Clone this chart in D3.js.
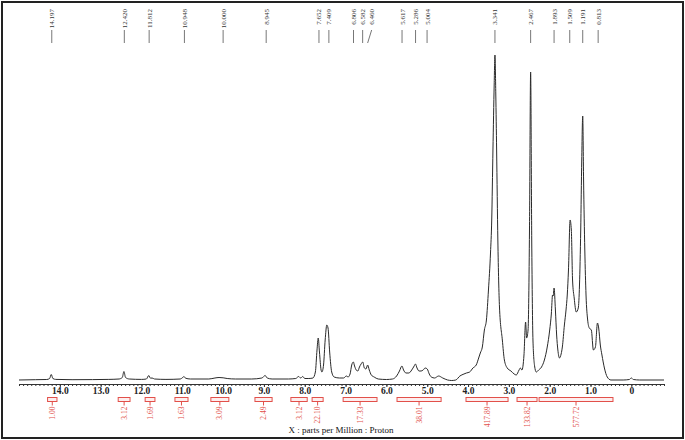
<!DOCTYPE html>
<html lang="en">
<head>
    <meta charset="UTF-8">
    <title>1H NMR spectrum</title>
    <script src="https://d3js.org/d3.v7.min.js"></script>
    <style>
        body { margin: 0; background: #fff; }
        text { font-family: "Liberation Serif", "DejaVu Serif", serif; }
    </style>
</head>
<body>
<svg width="685" height="440"></svg>
<script>
    // peak picks shown along the top (ppm)
    const peakPicks = [14.197, 12.420, 11.812, 10.948, 10.000, 8.945, 7.652, 7.409,
        6.806, 6.582, 6.460, 5.617, 5.286, 5.004, 3.341, 2.467, 1.893, 1.509, 1.191, 0.813]

    // integration regions (ppm from / to) and their values
    const integralFrom = [14.30, 12.57, 11.91, 11.18, 10.30, 9.22, 8.34, 7.82, 7.06, 5.74, 4.05, 2.80, 2.26]
    const integralTo = [14.07, 12.28, 11.67, 10.86, 9.86, 8.80, 7.94, 7.55, 6.23, 4.66, 3.02, 2.31, 0.45]
    const integralValues = ["1.00", "3.12", "1.69", "1.63", "3.09", "2.49", "3.12", "22.10",
        "17.33", "38.01", "417.89", "133.82", "577.72"]

    // axis tick labels (ppm)
    const majorTicks = [14, 13, 12, 11, 10, 9, 8, 7, 6, 5, 4, 3, 2, 1, 0]

    // spectrum: [ppm, intensity]
    const spectrum = [
        [15.0, 0], [14.6, 0.3], [14.32, 0.5], [14.25, 1.5], [14.21, 5.5], [14.17, 1.5], [14.1, 0.6],
        [13.7, 0.3], [13.2, 0.4], [12.8, 0.6], [12.55, 1], [12.47, 2.5], [12.43, 8.5], [12.39, 2.5],
        [12.3, 1], [12.0, 0.6], [11.88, 1], [11.82, 4.5], [11.78, 1.8], [11.74, 2], [11.68, 1],
        [11.4, 0.6], [11.05, 1], [10.99, 2.5], [10.96, 3.5], [10.92, 1.8], [10.8, 1], [10.35, 1],
        [10.2, 2], [10.1, 2.5], [10.0, 2.2], [9.9, 1.5], [9.7, 1], [9.3, 1], [9.05, 2], [8.97, 4.5],
        [8.92, 2], [8.8, 1], [8.4, 1], [8.22, 1.5], [8.15, 3.5], [8.1, 2], [8.05, 3.5], [8.0, 1.5],
        [7.9, 1.5], [7.8, 2], [7.74, 8], [7.7, 30], [7.67, 42], [7.64, 28], [7.6, 10], [7.58, 8],
        [7.54, 15], [7.5, 40], [7.46, 55], [7.43, 52], [7.39, 28], [7.34, 8], [7.28, 3], [7.15, 2],
        [7.05, 2], [6.98, 4], [6.94, 3], [6.89, 6], [6.85, 15], [6.81, 18], [6.78, 14], [6.74, 10],
        [6.7, 9], [6.66, 13], [6.62, 16], [6.58, 18], [6.54, 12], [6.5, 11], [6.46, 15], [6.42, 10],
        [6.37, 5], [6.3, 3], [6.2, 1], [6.0, 0.5], [5.85, 1], [5.75, 4], [5.68, 9], [5.62, 14],
        [5.58, 10], [5.52, 7], [5.45, 7], [5.38, 10], [5.32, 14], [5.29, 16], [5.25, 12], [5.2, 9],
        [5.15, 9], [5.1, 10], [5.05, 12], [5.0, 11], [4.95, 6], [4.9, 3], [4.82, 2], [4.72, 4],
        [4.62, 2], [4.5, 0], [4.4, -0.5], [4.3, 0], [4.2, 4], [4.1, 6], [4.04, 7], [3.96, 8],
        [3.88, 12], [3.8, 15], [3.74, 22], [3.7, 27], [3.65, 33], [3.6, 50], [3.55, 60], [3.5, 90],
        [3.45, 127], [3.42, 160], [3.39, 230], [3.36, 295], [3.341, 325], [3.32, 285], [3.3, 230],
        [3.27, 140], [3.23, 73], [3.16, 40], [3.11, 20], [3.04, 12], [2.95, 9], [2.87, 6], [2.82, 5],
        [2.75, 10], [2.72, 12], [2.68, 10], [2.63, 25], [2.59, 58], [2.565, 42], [2.53, 50],
        [2.495, 150], [2.467, 308], [2.44, 140], [2.41, 40], [2.37, 14], [2.33, 8], [2.27, 10],
        [2.2, 13], [2.13, 20], [2.06, 33], [2.0, 50], [1.96, 66], [1.93, 85], [1.915, 84],
        [1.893, 92], [1.86, 70], [1.83, 45], [1.8, 30], [1.76, 22], [1.72, 26], [1.69, 33],
        [1.64, 55], [1.6, 70], [1.57, 85], [1.54, 110], [1.5, 160], [1.47, 150], [1.44, 100],
        [1.4, 82], [1.35, 68], [1.3, 72], [1.27, 95], [1.24, 150], [1.215, 220], [1.191, 264],
        [1.17, 200], [1.14, 130], [1.11, 85], [1.07, 60], [1.03, 52], [0.98, 50], [0.93, 30],
        [0.88, 33], [0.83, 57], [0.8, 52], [0.76, 35], [0.72, 25], [0.66, 12], [0.59, 3], [0.5, 0],
        [0.2, 0], [0.05, 0.5], [0.0, 2], [-0.05, 0.5], [-0.2, 0], [-0.8, 0]
    ]

    let svg = d3.select('svg')
    const red = "#e2504a"

    // outer frame
    svg.append("rect")
        .attr("x", 2).attr("y", 2).attr("width", 681).attr("height", 436)
        .attr("fill", "none").attr("stroke", "#222").attr("stroke-width", 2)

    let x = d3.scaleLinear().domain([15.0, -0.8]).range([19, 664])
    let y = d3.scaleLinear().domain([0, 325]).range([380, 55])

    // spectrum trace
    let line = d3.line()
        .x(d => x(d[0]))
        .y(d => y(d[1]))
        .curve(d3.curveMonotoneX)

    svg.append("path")
        .datum(spectrum)
        .attr("d", line)
        .attr("fill", "none")
        .attr("stroke", "#2a2a2a")
        .attr("stroke-width", 1)

    // minor ticks every 0.1 ppm
    let minorAxis = d3.axisBottom(x)
        .tickValues(d3.range(-8, 151).map(d => d / 10))
        .tickSize(2)
        .tickSizeOuter(0)
        .tickFormat("")
    svg.append("g")
        .attr("transform", "translate(0,384)")
        .call(minorAxis)
        .call(g => g.selectAll("line,path").attr("stroke", "#333"))

    // major ticks with labels
    let majorAxis = d3.axisBottom(x)
        .tickValues(majorTicks)
        .tickSize(3)
        .tickSizeOuter(0)
        .tickPadding(0)
        .tickFormat(d => d === 0 ? "0" : d.toFixed(1))
    svg.append("g")
        .attr("transform", "translate(0,384)")
        .call(majorAxis)
        .call(g => g.select(".domain").remove())
        .call(g => g.selectAll("line").attr("stroke", "#333"))
        .call(g => g.selectAll("text")
            .attr("font-family", '"Liberation Serif", serif')
            .attr("font-size", 9.5)
            .attr("font-weight", "bold")
            .attr("fill", "#222"))

    // axis title
    svg.append("text")
        .attr("x", 341).attr("y", 433)
        .attr("text-anchor", "middle")
        .attr("font-size", 9)
        .attr("fill", "#111")
        .text("X : parts per Million : Proton")

    // peak pick labels, nudged right when they would collide
    let picks = []
    peakPicks.forEach((p, i) => {
        let px = x(p)
        let lx = px
        if (i > 0 && lx - picks[i - 1].lx < 8) lx = picks[i - 1].lx + 9
        picks.push({ppm: p, px: px, lx: lx})
    })

    let pickG = svg.append("g")
    pickG.selectAll("line")
        .data(picks)
        .enter()
        .append("line")
        .attr("x1", d => d.lx).attr("y1", 30)
        .attr("x2", d => d.px).attr("y2", 43)
        .attr("stroke", "#777")
        .attr("stroke-width", 1)

    pickG.selectAll("text")
        .data(picks)
        .enter()
        .append("text")
        .attr("transform", d => `translate(${d.lx + 2.5},9) rotate(-90)`)
        .attr("text-anchor", "end")
        .attr("font-size", 7)
        .attr("fill", "#333")
        .text(d => d.ppm.toFixed(3))

    // integrals
    let integrals = integralValues.map((v, i) => ({from: integralFrom[i], to: integralTo[i], value: v}))
    let intG = svg.append("g")
    intG.selectAll("rect")
        .data(integrals)
        .enter()
        .append("rect")
        .attr("x", d => x(d.from))
        .attr("y", 397.5)
        .attr("width", d => x(d.to) - x(d.from))
        .attr("height", 4)
        .attr("fill", "#fdeeee")
        .attr("stroke", red)
        .attr("stroke-width", 1)

    intG.selectAll("line")
        .data(integrals)
        .enter()
        .append("line")
        .attr("x1", d => (x(d.from) + x(d.to)) / 2)
        .attr("x2", d => (x(d.from) + x(d.to)) / 2)
        .attr("y1", 401.5).attr("y2", 405.5)
        .attr("stroke", red)

    intG.selectAll("text")
        .data(integrals)
        .enter()
        .append("text")
        .attr("transform", d => `translate(${(x(d.from) + x(d.to)) / 2 + 2.5},406.5) rotate(-90)`)
        .attr("text-anchor", "end")
        .attr("font-size", 7.5)
        .attr("fill", red)
        .text(d => d.value)
</script>
</body>
</html>
